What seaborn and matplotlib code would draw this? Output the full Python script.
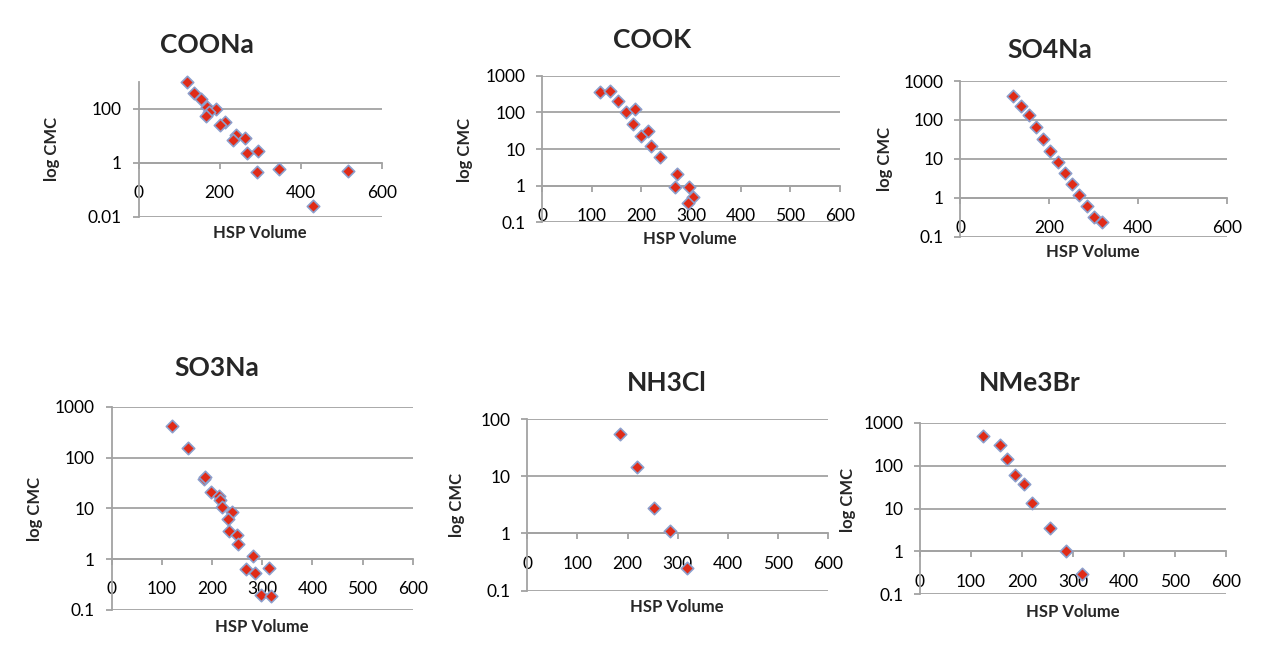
"""Seis paneles log CMC contra HSP Volume, estilo hoja de calculo."""

import matplotlib
matplotlib.use("Agg")
import matplotlib.pyplot as plt
import seaborn as sns

# Datos: HSP Volume (x) y CMC (y)
coona_x = [120, 137, 154, 168, 191, 174, 166, 213, 201, 240, 234, 262, 268, 295, 293, 346, 430, 516]
coona_y = [970, 395, 224, 118, 97, 77, 55, 33, 24, 10.3, 7, 8.1, 2.2, 2.7, 0.47, 0.57, 0.025, 0.49]

cook_x = [117, 136, 154, 169, 188, 184, 200, 214, 219, 238, 271, 268, 295, 304, 293]
cook_y = [360, 390, 200, 100, 125, 49, 23, 31, 12, 6.2, 2.1, 0.9, 0.93, 0.5, 0.33]

so4na_x = [119, 138, 155, 171, 186, 203, 220, 236, 252, 268, 285, 302, 318]
so4na_y = [415, 234, 134, 65, 32, 16, 8.5, 4.4, 2.2, 1.2, 0.61, 0.33, 0.24]

so3na_x = [120, 153, 183, 186, 198, 213, 216, 219, 239, 231, 233, 249, 252, 281, 268, 286, 313, 298, 317]
so3na_y = [423, 155, 38, 42, 21, 17.7, 14.6, 10.5, 8.3, 6.2, 3.55, 3.0, 2.0, 1.17, 0.64, 0.54, 0.66, 0.2, 0.19]

nh3cl_x = [185, 219, 252, 284, 318]
nh3cl_y = [55, 14.7, 2.8, 1.1, 0.245]

nme3br_x = [123, 157, 171, 186, 203, 220, 254, 286, 318]
nme3br_y = [490, 302, 140, 60, 37.5, 13.3, 3.5, 1.03, 0.3]

titulos = ["COONa", "COOK", "SO4Na", "SO3Na", "NH3Cl", "NMe3Br"]

ROJO = "#e02b17"
BORDE = "#8c9fcc"
GRIS = "#a3a3a3"
W, H = 1263, 659

sns.set_theme(style="white")
plt.rcParams["font.family"] = ["Lato", "DejaVu Sans"]

fig = plt.figure(figsize=(W / 100, H / 100), dpi=100)


def etiqueta(v):
    return f"{v:g}"


def panel(x, y, titulo, caja, ylim, yticks, xticks, pos_tit, pos_y, pos_x):
    """Dibuja un panel; caja = (izq, der, arriba, abajo) en pixeles."""
    izq, der, arr, aba = caja
    ax = fig.add_axes([izq / W, 1 - aba / H, (der - izq) / W, (aba - arr) / H])
    ax.set_yscale("log")
    sns.scatterplot(x=x, y=y, ax=ax, marker="D", s=40, color=ROJO,
                    edgecolor=BORDE, linewidth=1.2, zorder=4, clip_on=False)
    ax.set_xlim(0, 600)
    ax.set_ylim(*ylim)
    ax.set_yticks(yticks)
    ax.set_yticklabels([etiqueta(v) for v in yticks])
    ax.minorticks_off()
    ax.set_xticks(xticks)
    ax.set_xticklabels([etiqueta(v) for v in xticks])
    for v in yticks:
        ax.axhline(v, color=GRIS, lw=1.3, zorder=1)

    ax.spines["top"].set_visible(False)
    ax.spines["right"].set_visible(False)
    ax.spines["left"].set_color(GRIS)
    ax.spines["left"].set_linewidth(1.3)
    ax.spines["bottom"].set_position(("data", 1))
    ax.spines["bottom"].set_color(GRIS)
    ax.spines["bottom"].set_linewidth(1.3)
    ax.tick_params(axis="both", direction="out", length=4, width=1.3,
                   color=GRIS, labelsize=12.5, labelcolor="black")
    ax.tick_params(axis="x", pad=12, bottom=True)
    ax.tick_params(axis="y", pad=8, left=True)
    ax.set_xlabel("")
    ax.set_ylabel("")
    ax.patch.set_alpha(0)

    fig.text(pos_tit[0] / W, 1 - pos_tit[1] / H, titulo, fontsize=19,
             fontweight="bold", ha="center", va="center")
    fig.text(pos_y[0] / W, 1 - pos_y[1] / H, "log CMC", fontsize=12,
             fontweight="bold", rotation=90, ha="center", va="center")
    fig.text(pos_x[0] / W, 1 - pos_x[1] / H, "HSP Volume", fontsize=12,
             fontweight="bold", ha="center", va="center")


dec4 = [0.1, 1, 10, 100, 1000]
x100 = [0, 100, 200, 300, 400, 500, 600]
x200 = [0, 200, 400, 600]

panel(coona_x, coona_y, titulos[0], (138.5, 382, 81.7, 216.7), (0.01, 1000),
      [0.01, 1, 100], x200, (207, 45), (52, 149), (260, 233))
panel(cook_x, cook_y, titulos[1], (542, 840, 75.7, 222.3), (0.1, 1000),
      dec4, x100, (652, 40), (465, 150), (690, 239))
panel(so4na_x, so4na_y, titulos[2], (960, 1227, 81, 236.7), (0.1, 1000),
      dec4, x200, (1050, 50), (885, 159), (1093, 252))
panel(so3na_x, so3na_y, titulos[3], (111.7, 412.7, 406.7, 610), (0.1, 1000),
      dec4, x100, (217, 368), (35, 509), (262, 627))
panel(nh3cl_x, nh3cl_y, titulos[4], (527.3, 828.3, 419, 590.7), (0.1, 100),
      [0.1, 1, 10, 100], x100, (667, 383), (457, 505), (677, 607))
panel(nme3br_x, nme3br_y, titulos[5], (920, 1226, 422.7, 594.3), (0.1, 1000),
      dec4, x100, (1030, 383), (848, 500), (1073, 612))

fig.savefig("out.png", dpi=100, facecolor="white")
